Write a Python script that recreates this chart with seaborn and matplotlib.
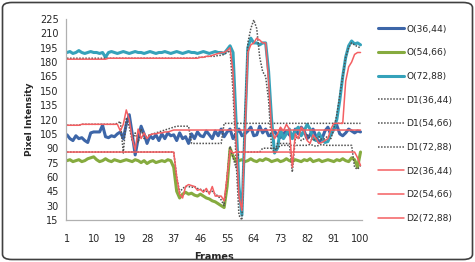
import numpy as np
import pandas as pd
import matplotlib
matplotlib.use("Agg")
import matplotlib.pyplot as plt
import seaborn as sns
from matplotlib.patches import FancyBboxPatch

frames = list(range(1, 101))

o_36_44 = [104,100,98,103,100,101,98,96,106,107,107,107,114,102,101,103,102,105,107,100,
           115,125,105,83,100,113,105,95,103,100,104,98,105,100,106,103,104,98,106,100,
           102,95,105,100,107,103,102,108,104,100,108,103,110,102,107,110,100,105,110,103,
           105,108,112,103,104,113,106,110,103,104,108,103,101,105,108,104,101,110,105,112,
           108,100,104,110,102,96,100,108,112,104,110,114,105,103,106,110,108,106,108,107]
o_54_66 = [77,78,76,77,78,76,77,79,80,81,78,76,77,79,77,76,78,77,76,77,
           78,77,76,78,77,75,77,74,76,77,75,76,77,76,78,77,70,45,38,42,
           44,42,43,41,40,42,40,38,37,35,34,32,30,28,50,90,82,76,77,78,
           76,77,79,77,76,78,77,79,78,76,77,78,76,77,79,77,76,78,77,76,
           78,77,79,76,77,78,76,77,78,77,76,78,77,79,77,76,80,78,70,86]
o_72_88 = [190,191,189,190,192,190,189,190,191,190,190,189,190,185,190,191,190,189,190,191,
           190,189,190,191,190,190,189,190,191,190,189,190,190,191,190,189,190,191,190,189,
           190,191,190,190,189,190,191,190,189,190,191,190,190,189,193,197,190,120,50,20,
           110,195,205,200,200,198,200,200,170,120,85,90,110,100,105,110,100,108,112,103,
           108,115,110,100,98,106,100,96,97,105,110,120,140,165,185,197,202,199,200,198]
d1_36_44 = [114,114,114,114,114,115,115,115,115,115,115,115,115,115,115,115,115,116,118,85,
            122,112,98,106,96,110,100,103,104,105,106,107,108,109,110,111,112,113,113,113,
            113,113,95,95,95,95,95,95,95,95,95,95,95,116,116,116,116,116,116,116,
            116,116,116,116,116,116,116,116,116,116,116,116,116,116,116,116,116,116,116,116,
            116,116,116,116,116,116,116,116,116,116,116,116,116,116,116,116,116,116,116,116]
d1_54_66 = [86,86,86,86,86,86,86,86,86,86,86,86,86,86,86,86,86,86,86,86,
            86,86,86,86,86,86,86,86,86,86,86,86,86,86,86,86,86,60,44,48,
            50,50,49,50,48,47,46,45,44,45,42,40,36,30,60,92,80,70,86,86,
            86,86,86,86,86,86,90,90,90,90,90,90,93,93,93,93,93,93,93,93,
            93,93,94,93,92,93,94,93,93,93,93,93,93,93,93,93,93,70,68,72]
d1_72_88 = [184,184,184,184,184,184,184,184,184,184,184,184,184,184,184,184,184,184,184,184,
            184,184,184,184,184,184,184,184,184,184,184,184,184,184,184,184,184,184,184,184,
            184,184,184,184,185,185,185,186,186,186,186,187,187,188,190,192,150,80,20,15,
            120,200,215,224,215,185,170,165,140,90,85,95,95,95,95,95,65,100,102,98,
            100,104,100,98,100,102,99,100,103,100,110,125,145,165,185,195,200,198,196,195]
d2_36_44 = [114,114,114,114,114,115,115,115,115,115,115,115,115,115,115,115,115,115,108,115,
            130,120,100,88,110,100,106,100,104,105,105,106,106,107,107,108,109,109,109,109,
            109,109,109,109,109,109,109,109,109,109,109,109,109,109,109,109,109,109,109,109,
            109,109,109,109,109,109,109,109,109,109,109,109,109,109,109,109,109,109,109,109,
            109,109,109,109,109,109,109,109,109,109,109,109,109,109,109,109,109,109,109,109]
d2_54_66 = [86,86,86,86,86,86,86,86,86,86,86,86,86,86,86,86,86,86,86,86,
            86,86,86,86,86,86,86,86,86,86,86,86,86,86,86,86,86,60,42,38,
            50,52,51,50,46,47,44,48,42,50,40,40,40,35,60,88,85,86,86,86,
            86,86,86,86,86,86,86,86,86,86,86,86,86,86,86,86,86,86,86,86,
            86,86,86,86,86,86,86,86,86,86,86,86,86,86,86,86,86,86,80,72]
d2_72_88 = [183,183,183,183,183,183,183,183,183,183,183,183,183,183,184,184,184,184,184,184,
            184,184,184,184,184,184,184,184,184,184,184,184,184,184,184,184,184,184,184,184,
            184,184,184,184,184,185,185,186,186,187,188,189,190,190,192,195,170,100,40,25,
            100,190,198,200,205,203,200,200,160,110,100,105,112,108,115,110,70,105,100,112,
            108,98,95,104,100,95,96,98,100,110,116,116,116,116,160,175,180,188,190,190]

series = [
    ("O(36,44)", o_36_44, "#3d66a8", "-", 2.2),
    ("O(54,66)", o_54_66, "#86ab3f", "-", 2.2),
    ("O(72,88)", o_72_88, "#35a2ba", "-", 2.2),
    ("D1(36,44)", d1_36_44, "#505050", (0, (1, 1)), 1.1),
    ("D1(54,66)", d1_54_66, "#505050", (0, (1, 1)), 1.1),
    ("D1(72,88)", d1_72_88, "#505050", (0, (1, 1)), 1.1),
    ("D2(36,44)", d2_36_44, "#f45f62", "-", 1.1),
    ("D2(54,66)", d2_54_66, "#f45f62", "-", 1.1),
    ("D2(72,88)", d2_72_88, "#f45f62", "-", 1.1),
]

sns.set_style("white")
plt.rcParams['font.family'] = ['DejaVu Sans']

fig = plt.figure(figsize=(4.75, 2.62), dpi=100)
ax = fig.add_axes([65.5/475, 1-220/262, (362-65.5)/475, (220-19)/262])

handles = []
for name, vals, col, ls, lw in series:
    df = pd.DataFrame({"Frames": frames, "Pixel Intensity": vals})
    sns.lineplot(data=df, x="Frames", y="Pixel Intensity", ax=ax, color=col,
                 linestyle=ls, linewidth=lw, label=name, legend=False)
    handles.append(ax.lines[-1])

ax.set_xlim(0.5, 100.5)
ax.set_ylim(15, 225)
ax.set_yticks(range(15, 226, 15))
ax.set_xticks(range(1, 101, 9))
ax.set_xticks(range(1, 101), minor=True)
ax.tick_params(axis='x', which='minor', length=3, color='#b0b0b0', width=0.8)
ax.tick_params(axis='x', which='major', length=3, color='#b0b0b0', labelsize=7, pad=7)
ax.tick_params(axis='y', which='major', length=3, color='#b0b0b0', labelsize=7, pad=2)
for s in ['top', 'right']:
    ax.spines[s].set_visible(False)
for s in ['left', 'bottom']:
    ax.spines[s].set_color('#b0b0b0')
    ax.spines[s].set_linewidth(0.9)
ax.set_xlabel("Frames", fontsize=7, fontweight='bold', labelpad=6)
ax.set_ylabel("Pixel Intensity", fontsize=6.5, fontweight='bold', labelpad=4)

leg = fig.legend(handles=handles, labels=[s[0] for s in series],
                 loc='upper left', bbox_to_anchor=(374/475, 1-21/262),
                 frameon=False, fontsize=6.6, labelspacing=1.6, handlelength=2.9,
                 handletextpad=0.25, borderaxespad=0)

border = FancyBboxPatch((2.5/475, 2.5/262), 470/475, 257/262,
                        boxstyle="round,pad=0,rounding_size=0.02",
                        transform=fig.transFigure, fill=False,
                        edgecolor='#404040', linewidth=1.2)
fig.patches.append(border)

fig.savefig("out.png", dpi=100)
